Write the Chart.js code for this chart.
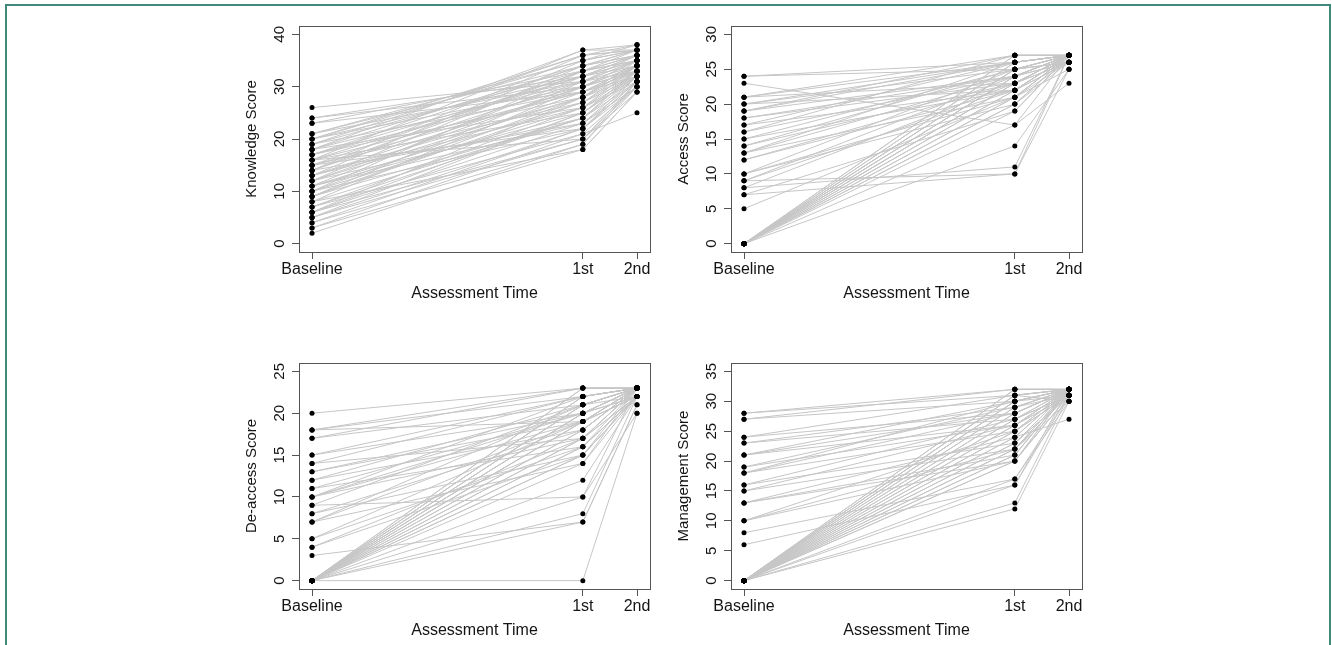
<!DOCTYPE html>
<html>
<head>
<meta charset="utf-8">
<script src="https://cdn.jsdelivr.net/npm/chart.js@4.4.0/dist/chart.umd.min.js"></script>
<style>
  html, body { margin: 0; padding: 0; background: #fff; overflow: hidden; }
  body { width: 1332px; height: 645px; position: relative; }
  #frame { position: absolute; left: 5px; top: 4px; width: 1322px; height: 700px;
           border: 2px solid #3f8a7b; border-bottom: none; }
  canvas { position: absolute; }
</style>
</head>
<body>
<div id="frame"></div>
<canvas id="c1" width="420" height="300" style="left:240px;top:20px"></canvas>
<canvas id="c2" width="420" height="300" style="left:672px;top:20px"></canvas>
<canvas id="c3" width="420" height="300" style="left:240px;top:357px"></canvas>
<canvas id="c4" width="420" height="300" style="left:672px;top:357px"></canvas>
<script>
// assessment times (months) and their labels
const timeValues = [0, 5, 6];
const timeLabels = ['Baseline', '1st', '2nd'];

const knowledgeTicks = [0, 10, 20, 30, 40];
const accessTicks = [0, 5, 10, 15, 20, 25, 30];
const deaccessTicks = [0, 5, 10, 15, 20, 25];
const managementTicks = [0, 5, 10, 15, 20, 25, 30, 35];

// one entry per participant, same index across the three arrays
const knowledgeBaseline = [2,3,4,5,5,6,6,7,7,8, 8,9,9,10,10,10,11,11,12,12, 12,13,13,13,14,14,14,15,15,15,
  16,16,16,17,17,17,18,18,18,19, 19,19,20,20,20,21,21,21,23,23, 24,24,26,20,4,3,11,9,15,8, 6,16,
  5,7,10,12,13,14,16,17,11,9, 18,6];
const knowledgeFirst = [19,18,22,20,25,23,28,21,26,24, 30,27,31,22,29,33,25,32,28,34, 24,30,35,26,31,36,23,29,33,27,
  32,37,20,30,34,28,31,37,26,33, 36,29,32,30,35,34,31,35,33,29, 32,30,31,36,19,21,27,24,22,18, 20,25,
  22,24,26,30,28,33,29,32,23,28, 34,25];
const knowledgeSecond = [30,29,32,31,33,31,34,25,33,32, 35,34,36,30,33,36,32,35,33,37, 31,34,37,32,35,38,30,34,36,33,
  35,38,29,33,36,32,34,37,31,35, 37,33,36,34,38,36,35,37,35,32, 34,33,33,37,31,30,32,33,31,29, 30,32,
  31,33,34,35,34,37,34,36,32,35, 37,33];

const accessBaseline = [0,0,0,0,0,0,0,0,0,0, 0,0,0,0,0,0,0,0,0,0, 0,0,
  5,7,7,8,8,9,9,9,10,10, 12,13,13,13,14,15,15,16,17,17, 18,19,19,19,20,20,21,21,21,23, 24,24,12,14,16,18,20,10];
const accessFirst = [14,17,19,20,20,21,21,22,22,23, 23,23,24,24,24,25,25,25,26,26, 27,27,
  21,10,19,11,23,10,22,24,20,25, 22,21,24,26,23,22,25,24,26,22, 23,24,26,27,25,22,23,26,27,17, 25,26,23,25,27,24,26,21];
const accessSecond = [25,27,27,26,27,27,26,27,27,27, 26,27,27,27,26,27,27,26,27,27, 27,27,
  27,25,27,27,27,27,26,27,27,27, 27,27,26,27,27,26,27,27,27,27, 26,27,27,27,26,27,27,27,27,23, 27,27,27,26,27,27,27,25];

const deaccessBaseline = [0,0,0,0,0,0,0,0,0,0, 0,0,0,0,0,0,0,0,0,0, 0,0,0,0,0,0,0,0,
  3,4,4,5,5,7,7,7,8,9, 10,10,10,10,11,12,13,14,15,15, 17,18,18,18,20,12,8,11,13,14, 9,17];
const deaccessFirst = [0,7,8,10,12,14,15,15,16,16, 17,17,18,18,19,19,19,20,20,20, 21,21,21,22,22,22,23,23,
  7,15,17,16,19,14,19,21,18,10, 19,20,22,17,20,21,19,22,22,20, 21,23,22,19,23,18,15,16,20,17, 21,23];
const deaccessSecond = [20,21,22,23,22,23,22,23,23,22, 23,22,23,23,22,23,23,23,22,23, 23,22,23,23,23,23,23,23,
  21,22,23,22,23,22,23,23,23,20, 23,22,23,22,23,23,22,23,23,23, 23,23,23,22,23,23,22,22,23,23, 23,23];

const managementBaseline = [0,0,0,0,0,0,0,0,0,0, 0,0,0,0,0,0,0,0,0,0, 0,0,0,0,0,0,0,0,0,0, 0,0,
  6,8,10,10,13,13,15,16,16,18, 18,19,19,21,21,23,23,24,24,27, 27,28,28,15,13,10,18,21];
const managementFirst = [12,13,16,17,20,20,21,21,22,22, 23,23,24,24,25,25,26,26,27,27, 28,28,29,29,30,30,30,31,31,31, 32,32,
  16,17,22,25,21,24,26,27,23,28, 25,29,26,28,30,29,27,31,28,30, 32,31,32,22,20,20,30,26];
const managementSecond = [30,31,32,31,32,31,32,32,31,32, 32,31,32,27,32,31,32,32,31,32, 32,32,32,31,32,32,31,32,32,30, 32,32,
  31,30,32,31,32,32,32,32,31,32, 32,32,31,32,32,32,31,32,32,32, 32,32,32,30,31,32,32,31];

const FONT = '"Liberation Sans", Arial, Helvetica, sans-serif';
const TEXT = '#141414';

// R-style box around the plot region + y labels drawn parallel to the axis
const boxPlugin = {
  id: 'rbox',
  afterDraw(chart) {
    const { ctx, chartArea: a } = chart;
    ctx.save();
    ctx.strokeStyle = '#555';
    ctx.lineWidth = 1;
    ctx.strokeRect(Math.round(a.left) + 0.5, Math.round(a.top) + 0.5,
                   Math.round(a.right - a.left), Math.round(a.bottom - a.top));
    const ys = chart.scales.y;
    ctx.fillStyle = TEXT;
    ctx.font = '15px ' + FONT;
    ctx.textAlign = 'center';
    ctx.textBaseline = 'middle';
    ys.ticks.forEach(t => {
      ctx.save();
      ctx.translate(a.left - 19, ys.getPixelForValue(t.value));
      ctx.rotate(-Math.PI / 2);
      ctx.fillText(String(t.value), 0, 0);
      ctx.restore();
    });
    ctx.restore();
  }
};

function makePanel(id, yTitle, base, first, second, ticks) {
  const lo = ticks[0], hi = ticks[ticks.length - 1];
  const ypad = (hi - lo) * 0.04;
  const xpad = (timeValues[2] - timeValues[0]) * 0.04;

  const datasets = base.map((b, i) => ({
    type: 'line',
    data: [{ x: timeValues[0], y: b }, { x: timeValues[1], y: first[i] }, { x: timeValues[2], y: second[i] }],
    borderColor: '#c6c6c6',
    borderWidth: 1,
    pointRadius: 0,
    fill: false,
    tension: 0
  }));

  const dots = [];
  base.forEach((b, i) => {
    dots.push({ x: timeValues[0], y: b }, { x: timeValues[1], y: first[i] }, { x: timeValues[2], y: second[i] });
  });
  datasets.push({
    type: 'scatter',
    data: dots,
    order: -1,
    backgroundColor: '#000',
    borderWidth: 0,
    pointRadius: 2.5
  });

  const gridOpts = { drawOnChartArea: false, drawTicks: true, tickLength: 7, color: '#555', lineWidth: 1 };

  new Chart(document.getElementById(id), {
    type: 'line',
    data: { datasets },
    options: {
      responsive: false,
      animation: false,
      events: [],
      layout: { padding: { top: 6, right: 10, left: 0, bottom: 0 } },
      plugins: { legend: { display: false }, tooltip: { enabled: false } },
      scales: {
        x: {
          type: 'linear',
          min: timeValues[0] - xpad,
          max: timeValues[2] + xpad,
          afterBuildTicks: s => { s.ticks = timeValues.map(v => ({ value: v })); },
          afterFit: s => { s.height = 68; },
          grid: gridOpts,
          border: { display: false },
          ticks: {
            autoSkip: false, maxRotation: 0, padding: 1, color: TEXT,
            font: { family: FONT, size: 16 },
            callback: v => timeLabels[timeValues.indexOf(v)]
          },
          title: {
            display: true, text: 'Assessment Time', color: TEXT,
            font: { family: FONT, size: 16 }, padding: { top: 0, bottom: 17 }
          }
        },
        y: {
          type: 'linear',
          min: lo - ypad,
          max: hi + ypad,
          afterBuildTicks: s => { s.ticks = ticks.map(v => ({ value: v })); },
          afterFit: s => { s.width = 59; },
          grid: gridOpts,
          border: { display: false },
          ticks: { display: false },
          title: {
            display: true, text: yTitle, color: TEXT,
            font: { family: FONT, size: 15 }, padding: { top: 3, bottom: 0 }
          }
        }
      }
    },
    plugins: [boxPlugin]
  });
}

makePanel('c1', 'Knowledge Score', knowledgeBaseline, knowledgeFirst, knowledgeSecond, knowledgeTicks);
makePanel('c2', 'Access Score', accessBaseline, accessFirst, accessSecond, accessTicks);
makePanel('c3', 'De-access Score', deaccessBaseline, deaccessFirst, deaccessSecond, deaccessTicks);
makePanel('c4', 'Management Score', managementBaseline, managementFirst, managementSecond, managementTicks);
</script>
</body>
</html>
